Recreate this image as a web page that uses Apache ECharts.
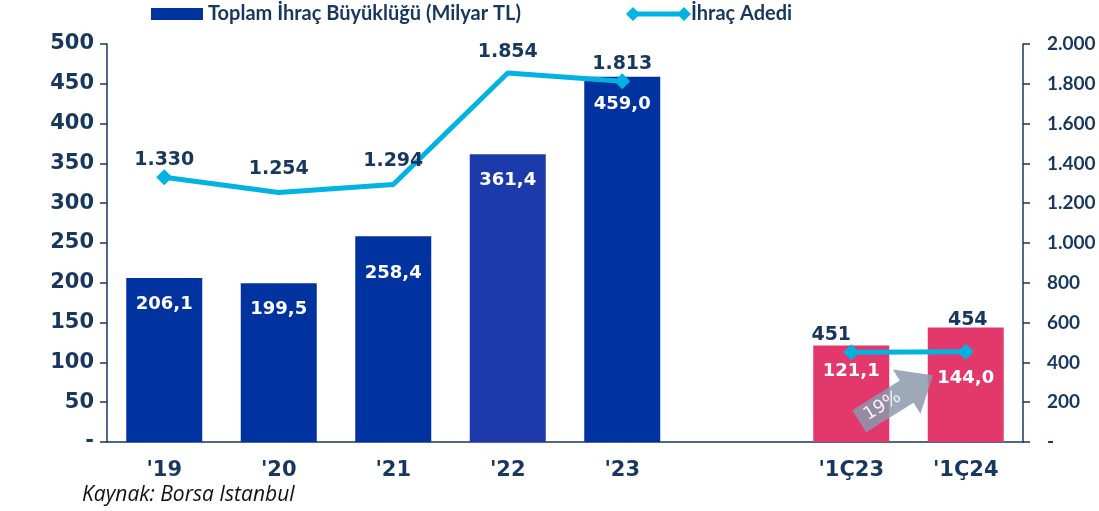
<!DOCTYPE html>
<html>
<head>
<meta charset="utf-8">
<script src="https://cdn.jsdelivr.net/npm/echarts@6/dist/echarts.min.js"></script>
<style>
  html, body { margin: 0; padding: 0; background: #fff; }
  #chart { width: 1099px; height: 511px; }
</style>
</head>
<body>
<div id="chart"></div>
<script>
// kategoriler ('23 ile '1Ç23 arasında boş bir sütun var)
const categories = ["'19", "'20", "'21", "'22", "'23", "", "'1Ç23", "'1Ç24"];
// toplam ihraç büyüklüğü (milyar TL)
const ihracBuyukluk = [206.1, 199.5, 258.4, 361.4, 459.0, null, 121.1, 144.0];
// ihraç adedi
const ihracAdedi = [1330, 1254, 1294, 1854, 1813, null, 451, 454];
const artisOrani = '19%';

const navy = '#17375e';
const barBlue = '#0033a0';
const bar22 = '#1c3aa9';
const pink = '#e3386c';
const cyan = '#00b3e3';

// etiket kaydırmaları (sütun no -> piksel)
const barLabelShift = { 2: 11, 4: 2, 7: 25 };
const lineLabelStyle = {
  0: { distance: 0 },
  1: { distance: 14 },
  2: { distance: 14 },
  3: { distance: 11 },
  4: { distance: 0 },
  6: { distance: 0, offset: [-20, 0] },
  7: { distance: 0, offset: [2, -14] }
};

const chart = echarts.init(document.getElementById('chart'));

function trNum(v) {
  // 1234 -> 1.234
  return String(v).replace(/\B(?=(\d{3})+(?!\d))/g, '.');
}

const barData = ihracBuyukluk.map(function (v, i) {
  let c = barBlue;
  if (i === 3) c = bar22;
  if (i >= 6) c = pink;
  let d = { value: v, itemStyle: { color: c } };
  if (barLabelShift[i]) d.label = { offset: [0, barLabelShift[i]] };
  return d;
});

const markerAt = [0, 4, 6, 7];
const lineData = ihracAdedi.map(function (v, i) {
  let d = { value: v };
  if (markerAt.indexOf(i) < 0) d.symbolSize = 0;
  if (lineLabelStyle[i]) d.label = lineLabelStyle[i];
  return d;
});

const lineIcon = 'path://M0,7 L7,0 L14,7 L7,14 Z M51,7 L58,0 L65,7 L58,14 Z M7,4.5 L58,4.5 L58,9.5 L7,9.5 Z';

const legendText = { fontFamily: 'Lato', fontWeight: 'bold', fontSize: 20, color: navy };

const option = {
  animation: false,
  textStyle: { fontFamily: 'DejaVu Sans' },
  grid: { left: 107, right: 76, top: 44, bottom: 69 },
  legend: [
    {
      data: [{ name: 'Toplam İhraç Büyüklüğü (Milyar TL)', icon: 'rect' }],
      left: 151, top: 4, padding: 0,
      itemWidth: 52, itemHeight: 12, itemGap: 4,
      textStyle: legendText
    },
    {
      data: [{ name: 'İhraç Adedi', icon: lineIcon }],
      left: 626, top: 4, padding: 0,
      itemWidth: 65, itemHeight: 14, itemGap: 0,
      textStyle: Object.assign({}, legendText, { padding: [0, 0, 0, -5] })
    }
  ],
  title: {
    text: 'Kaynak: Borsa Istanbul',
    left: 77, top: 480,
    textStyle: { fontFamily: 'Open Sans', fontStyle: 'italic', fontWeight: 'normal', fontSize: 21, color: '#111' }
  },
  xAxis: {
    type: 'category',
    data: categories,
    axisLine: { lineStyle: { color: navy, width: 1.5 } },
    axisTick: { show: false },
    axisLabel: { color: navy, fontWeight: 'bold', fontSize: 21, margin: 18 }
  },
  yAxis: [
    {
      type: 'value', min: 0, max: 500, interval: 50,
      splitLine: { show: false },
      axisLine: { show: true, lineStyle: { color: navy, width: 1.5 } },
      axisTick: { show: true, length: 7, lineStyle: { color: navy, width: 1.5 } },
      axisLabel: {
        color: navy, fontWeight: 'bold', fontSize: 21, margin: 13,
        formatter: function (v) { return v === 0 ? '-' : String(v); }
      }
    },
    {
      type: 'value', min: 0, max: 2000, interval: 200,
      splitLine: { show: false },
      axisLine: { show: true, lineStyle: { color: navy, width: 1.5 } },
      axisTick: { show: true, length: 7, lineStyle: { color: navy, width: 1.5 } },
      axisLabel: {
        color: navy, fontFamily: 'Lato', fontWeight: 'bold', fontSize: 19, margin: 24,
        formatter: function (v) { return v === 0 ? '-' : trNum(v); }
      }
    }
  ],
  series: [
    {
      name: 'Toplam İhraç Büyüklüğü (Milyar TL)',
      type: 'bar',
      yAxisIndex: 0,
      barWidth: 76,
      itemStyle: { color: barBlue },
      data: barData,
      label: {
        show: true, position: 'insideTop', distance: 17,
        color: '#fff', fontWeight: 'bold', fontSize: 18,
        formatter: function (p) { return p.value.toFixed(1).replace('.', ','); }
      }
    },
    {
      name: 'İhraç Adedi',
      type: 'line',
      yAxisIndex: 1,
      data: lineData,
      connectNulls: false,
      symbol: 'diamond',
      symbolSize: 16,
      lineStyle: { color: cyan, width: 5 },
      itemStyle: { color: cyan },
      label: {
        show: true, position: 'top', distance: 7,
        color: navy, fontWeight: 'bold', fontSize: 19,
        formatter: function (p) { return trNum(p.value); }
      },
      z: 3
    }
  ]
};
chart.setOption(option);

// 1Ç23 -> 1Ç24 artış oku
const a = chart.convertToPixel({ xAxisIndex: 0, yAxisIndex: 0 }, [6, 0]);
const b = chart.convertToPixel({ xAxisIndex: 0, yAxisIndex: 0 }, [7, 0]);
const cx = (a[0] + b[0]) / 2 - 12;
const cy = a[1] - 44;
const ang = 32 * Math.PI / 180;
chart.setOption({
  graphic: [
    {
      type: 'polygon', x: cx, y: cy, rotation: ang, z: 100,
      shape: { points: [[-44, -13], [12, -13], [12, -26], [43, 0], [12, 26], [12, 13], [-44, 13]] },
      style: { fill: 'rgba(140,153,173,0.85)' }
    },
    {
      type: 'text', x: cx - 14, y: cy + 8, rotation: ang, z: 101,
      style: {
        text: artisOrani, fill: 'rgba(255,255,255,0.9)',
        font: '18px DejaVu Sans', align: 'center', verticalAlign: 'middle'
      }
    }
  ]
});
</script>
</body>
</html>
